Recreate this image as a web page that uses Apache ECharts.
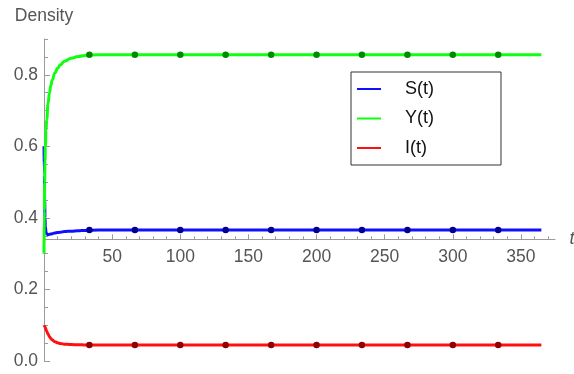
<!DOCTYPE html>
<html>
<head>
<meta charset="utf-8">
<script src="https://cdn.jsdelivr.net/npm/echarts@6/dist/echarts.min.js"></script>
<style>
html,body{margin:0;padding:0;background:#fff;}
#chart{width:574px;height:374px;}
</style>
</head>
<body>
<div id="chart"></div>
<script>
// ---- data ----
const tValues = [0, 0.25, 0.5, 0.75, 1, 1.5, 2, 3, 4, 5, 6, 8, 10, 12, 15, 20, 25, 30, 40, 50, 75, 100, 150, 200, 250, 300, 365];
const sValues = [0.600, 0.520, 0.450, 0.400, 0.375, 0.360, 0.355, 0.353, 0.354, 0.355, 0.356, 0.358, 0.359, 0.360, 0.362, 0.363, 0.364, 0.365, 0.366, 0.366, 0.366, 0.366, 0.366, 0.366, 0.366, 0.366, 0.366];
const yValues = [0.300, 0.420, 0.500, 0.560, 0.600, 0.645, 0.675, 0.720, 0.750, 0.770, 0.785, 0.805, 0.818, 0.828, 0.838, 0.846, 0.851, 0.854, 0.856, 0.856, 0.856, 0.856, 0.856, 0.856, 0.856, 0.856, 0.856];
const iValues = [0.100, 0.099, 0.097, 0.095, 0.093, 0.088, 0.083, 0.075, 0.068, 0.063, 0.059, 0.054, 0.051, 0.049, 0.047, 0.046, 0.0455, 0.045, 0.045, 0.045, 0.045, 0.045, 0.045, 0.045, 0.045, 0.045, 0.045];

const markT = [33.3, 66.7, 100, 133.3, 166.7, 200, 233.3, 266.7, 300, 333.3];
const markS = [0.366, 0.366, 0.366, 0.366, 0.366, 0.366, 0.366, 0.366, 0.366, 0.366];
const markY = [0.856, 0.856, 0.856, 0.856, 0.856, 0.856, 0.856, 0.856, 0.856, 0.856];
const markI = [0.045, 0.045, 0.045, 0.045, 0.045, 0.045, 0.045, 0.045, 0.045, 0.045];

const seriesNames = ['S(t)', 'Y(t)', 'I(t)'];
const xMajorTicks = [50, 100, 150, 200, 250, 300, 350];
const xMinorTicks = [10, 20, 30, 40, 60, 70, 80, 90, 110, 120, 130, 140, 160, 170, 180, 190, 210, 220, 230, 240, 260, 270, 280, 290, 310, 320, 330, 340, 360, 370];
const yMajorTicks = [0, 0.2, 0.4, 0.6, 0.8];
const yMinorTicks = [0.05, 0.1, 0.15, 0.25, 0.3, 0.35, 0.45, 0.5, 0.55, 0.65, 0.7, 0.75, 0.85, 0.9];

const X_MIN = 0, X_MAX = 375, Y_MIN = 0, Y_MAX = 0.9, X_AXIS_CROSS = 0.34;

// ---- layout ----
const GRID = {left: 44, right: 19, top: 39, bottom: 13};
const gridH = 374 - GRID.top - GRID.bottom;
const xOffset = -gridH * (X_AXIS_CROSS - Y_MIN) / (Y_MAX - Y_MIN);

const TEXT = '#555555';
const AXIS = '#9a9a9a';
const FONT = 'Liberation Sans, Arial, sans-serif';

function pairs(xs, ys) { return xs.map((x, i) => [x, ys[i]]); }

const chart = echarts.init(document.getElementById('chart'), null, {renderer: 'canvas'});

const lineColors = ['#1010ff', '#10ff10', '#ff1010'];
const dotColors = ['#000090', '#008a00', '#900000'];
const lineData = [sValues, yValues, iValues];
const markData = [markS, markY, markI];

const series = [];
seriesNames.forEach((name, k) => {
  series.push({
    name: name, type: 'line', xAxisIndex: 0, yAxisIndex: 0,
    data: pairs(tValues, lineData[k]),
    showSymbol: false, symbol: 'none', smooth: true, smoothMonotone: 'x',
    lineStyle: {color: lineColors[k], width: 3},
    itemStyle: {color: lineColors[k]},
    z: 3, animation: false
  });
});
seriesNames.forEach((name, k) => {
  series.push({
    name: name + ' mesh', type: 'scatter', xAxisIndex: 0, yAxisIndex: 0,
    data: pairs(markT, markData[k]),
    symbolSize: 6.5,
    itemStyle: {color: dotColors[k], opacity: 1},
    z: 4, animation: false
  });
});

const option = {
  animation: false,
  backgroundColor: '#ffffff',
  grid: Object.assign({containLabel: false, outerBoundsMode: 'none'}, GRID),
  legend: {
    data: seriesNames,
    orient: 'vertical',
    left: 351, top: 72,
    padding: [8, 67, 8, 5],
    itemWidth: 24, itemHeight: 16, itemGap: 11.5,
    backgroundColor: '#ffffff',
    borderColor: '#333333', borderWidth: 1,
    lineStyle: {width: 2},
    itemStyle: {opacity: 0},
    textStyle: {fontFamily: FONT, fontSize: 18, color: '#111111', padding: [0, 0, 0, 19]},
    selectedMode: false
  },
  xAxis: [{
    type: 'value', min: X_MIN, max: X_MAX, position: 'bottom', offset: xOffset,
    name: 't', nameLocation: 'end', nameGap: 14.5,
    nameTextStyle: {fontFamily: FONT, fontSize: 18, fontStyle: 'italic', color: TEXT, verticalAlign: 'middle'},
    axisLine: {show: true, onZero: false, lineStyle: {color: AXIS, width: 1}},
    axisTick: {show: true, inside: true, length: 5, customValues: xMajorTicks, lineStyle: {color: AXIS}},
    axisLabel: {show: true, customValues: xMajorTicks, margin: 9, fontFamily: FONT, fontSize: 17.5, color: TEXT},
    splitLine: {show: false}
  }, {
    type: 'value', min: X_MIN, max: X_MAX, position: 'bottom', offset: xOffset,
    axisLine: {show: false, onZero: false},
    axisTick: {show: true, inside: true, length: 3, customValues: xMinorTicks, lineStyle: {color: AXIS}},
    axisLabel: {show: false},
    splitLine: {show: false}
  }],
  yAxis: [{
    type: 'value', min: Y_MIN, max: Y_MAX, position: 'left',
    name: 'Density', nameLocation: 'end', nameGap: 14,
    nameTextStyle: {fontFamily: FONT, fontSize: 17.5, color: TEXT, align: 'center'},
    axisLine: {show: true, onZero: false, lineStyle: {color: AXIS, width: 1}},
    axisTick: {show: true, inside: true, length: 6, customValues: yMajorTicks, lineStyle: {color: AXIS}},
    axisLabel: {show: true, customValues: yMajorTicks, margin: 6, fontFamily: FONT, fontSize: 17.5, color: TEXT,
      formatter: v => v.toFixed(1)},
    splitLine: {show: false}
  }, {
    type: 'value', min: Y_MIN, max: Y_MAX, position: 'left',
    axisLine: {show: false, onZero: false},
    axisTick: {show: true, inside: true, length: 4, customValues: yMinorTicks, lineStyle: {color: AXIS}},
    axisLabel: {show: false},
    splitLine: {show: false}
  }],
  series: series
};
chart.setOption(option);
</script>
</body>
</html>
